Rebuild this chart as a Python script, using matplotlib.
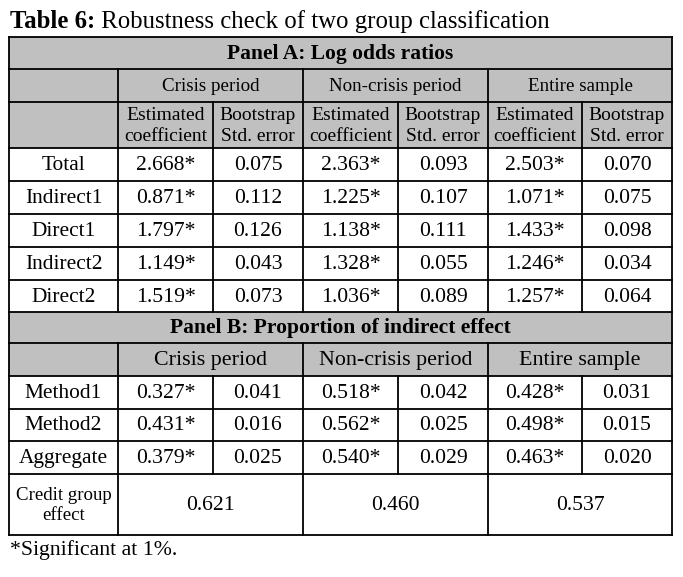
import matplotlib
matplotlib.use("Agg")
import matplotlib.pyplot as plt
from matplotlib.patches import Rectangle

plt.rcParams['font.family'] = ['Liberation Serif', 'DejaVu Serif']

# ---- data ----
title_bold = "Table 6:"
title_rest = " Robustness check of two group classification"
panel_a_title = "Panel A: Log odds ratios"
panel_b_title = "Panel B: Proportion of indirect effect"
periods = ["Crisis period", "Non-crisis period", "Entire sample"]
sub_headers = ["Estimated\ncoefficient", "Bootstrap\nStd. error"]

a_rows = ["Total", "Indirect1", "Direct1", "Indirect2", "Direct2"]
a_coef = [["2.668*", "2.363*", "2.503*"],
          ["0.871*", "1.225*", "1.071*"],
          ["1.797*", "1.138*", "1.433*"],
          ["1.149*", "1.328*", "1.246*"],
          ["1.519*", "1.036*", "1.257*"]]
a_se = [["0.075", "0.093", "0.070"],
        ["0.112", "0.107", "0.075"],
        ["0.126", "0.111", "0.098"],
        ["0.043", "0.055", "0.034"],
        ["0.073", "0.089", "0.064"]]

b_rows = ["Method1", "Method2", "Aggregate"]
b_coef = [["0.327*", "0.518*", "0.428*"],
          ["0.431*", "0.562*", "0.498*"],
          ["0.379*", "0.540*", "0.463*"]]
b_se = [["0.041", "0.042", "0.031"],
        ["0.016", "0.025", "0.015"],
        ["0.025", "0.029", "0.020"]]
credit_label = "Credit group\neffect"
credit_vals = ["0.621", "0.460", "0.537"]
footnote = "*Significant at 1%."

# ---- layout (pixels) ----
W, H = 683, 577
xs = [9, 118, 213, 303, 398, 488, 582, 672]
ys = [37, 69, 102, 148, 181, 214, 247, 280, 312, 343, 376, 409, 441, 474, 535]
GRAY = "#c0c0c0"
LW = 1.3

fig = plt.figure(figsize=(W / 100, H / 100), dpi=100)
ax = fig.add_axes([0, 0, 1, 1])
ax.set_xlim(0, W)
ax.set_ylim(H, 0)
ax.axis("off")

def fill(x0, x1, y0, y1):
    ax.add_patch(Rectangle((x0, y0), x1 - x0, y1 - y0, facecolor=GRAY, edgecolor="none", zorder=0))

def hline(y, x0, x1):
    ax.plot([x0, x1], [y, y], color="black", lw=LW, solid_capstyle="projecting", zorder=2)

def vline(x, y0, y1):
    ax.plot([x, x], [y0, y1], color="black", lw=LW, solid_capstyle="projecting", zorder=2)

def ctext(x0, x1, y0, y1, s, size, weight="normal", ls=1.0):
    ax.text((x0 + x1) / 2, (y0 + y1) / 2 + 1, s, ha="center", va="center", fontsize=size,
            fontweight=weight, linespacing=ls, color="black", zorder=3)

# title
t = ax.text(10, 22, title_bold, fontsize=17.8, fontweight="bold", va="center", ha="left")
fig.canvas.draw()
bb = t.get_window_extent()
x_end = ax.transData.inverted().transform((bb.x1, 0))[0]
ax.text(x_end, 22, title_rest, fontsize=17.8, va="center", ha="left")

# gray fills
fill(xs[0], xs[-1], ys[0], ys[3])
fill(xs[0], xs[-1], ys[8], ys[10])

# Panel A
ctext(xs[0], xs[-1], ys[0], ys[1], panel_a_title, 15.5, "bold")
for i, p in enumerate(periods):
    ctext(xs[1 + 2 * i], xs[3 + 2 * i], ys[1], ys[2], p, 13.7)
    for j, sh in enumerate(sub_headers):
        ctext(xs[1 + 2 * i + j], xs[2 + 2 * i + j], ys[2], ys[3], sh, 14, ls=1.25)
for r, name in enumerate(a_rows):
    y0, y1 = ys[3 + r], ys[4 + r]
    ctext(xs[0], xs[1], y0, y1, name, 15.4)
    for i in range(3):
        ctext(xs[1 + 2 * i], xs[2 + 2 * i], y0, y1, a_coef[r][i], 15.6)
        ctext(xs[2 + 2 * i], xs[3 + 2 * i], y0, y1, a_se[r][i], 15.6)

# Panel B
ctext(xs[0], xs[-1], ys[8], ys[9], panel_b_title, 15.5, "bold")
for i, p in enumerate(periods):
    ctext(xs[1 + 2 * i], xs[3 + 2 * i], ys[9], ys[10], p, 15.8)
for r, name in enumerate(b_rows):
    y0, y1 = ys[10 + r], ys[11 + r]
    ctext(xs[0], xs[1], y0, y1, name, 15.4)
    for i in range(3):
        ctext(xs[1 + 2 * i], xs[2 + 2 * i], y0, y1, b_coef[r][i], 15.6)
        ctext(xs[2 + 2 * i], xs[3 + 2 * i], y0, y1, b_se[r][i], 15.6)
ctext(xs[0], xs[1], ys[13], ys[14], credit_label, 13.6, ls=1.3)
for i in range(3):
    ctext(xs[1 + 2 * i], xs[3 + 2 * i], ys[13], ys[14], credit_vals[i], 15.6)

ax.text(10, 550, footnote, fontsize=15.7, va="center", ha="left")

# grid lines
for y in ys:
    hline(y, xs[0], xs[-1])
vline(xs[0], ys[0], ys[-1])
vline(xs[-1], ys[0], ys[-1])
# column separators
for k in [1, 3, 5]:
    vline(xs[k], ys[1], ys[8])
    vline(xs[k], ys[9], ys[-1])
for k in [2, 4, 6]:
    vline(xs[k], ys[2], ys[8])
    vline(xs[k], ys[10], ys[13])

fig.savefig("out.png", dpi=100)
